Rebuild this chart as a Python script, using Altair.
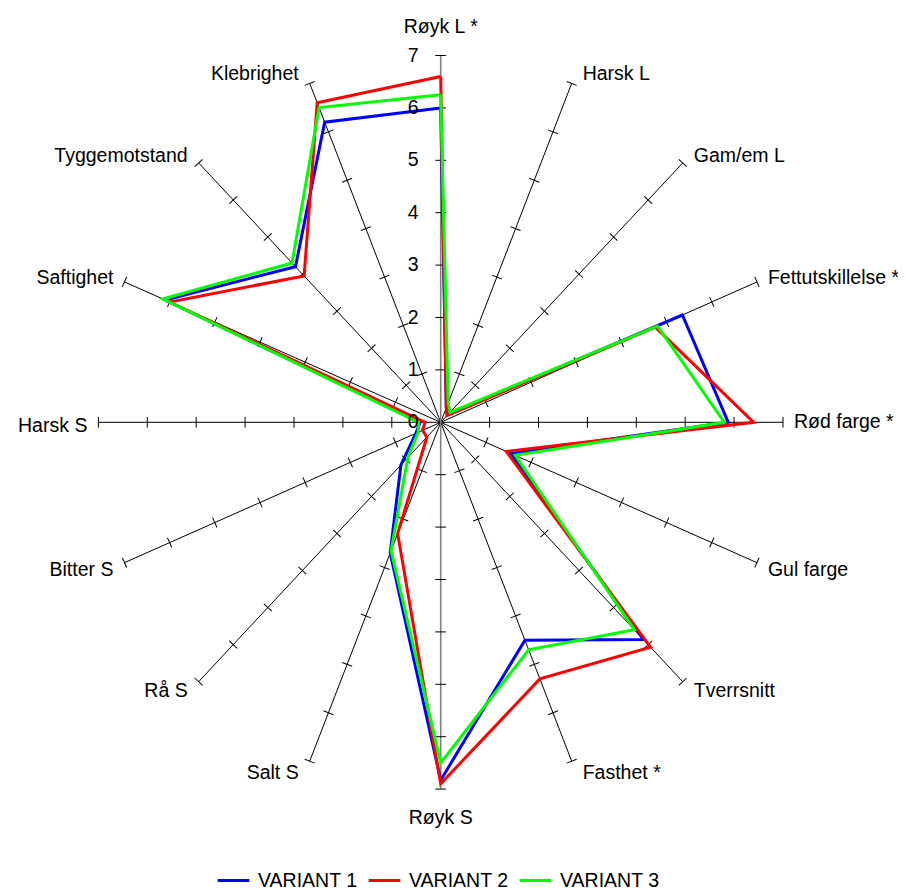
import math
import altair as alt
import pandas as pd

# ---- data ----
categories = ["Røyk L *", "Harsk L", "Gam/em L", "Fettutskillelse *", "Rød farge *",
              "Gul farge", "Tverrsnitt", "Fasthet *", "Røyk S", "Salt S", "Rå S",
              "Bitter S", "Harsk S", "Saftighet", "Tyggemotstand", "Klebrighet"]
variant1 = [6.0, 0.3, 0.2, 5.35, 5.88, 1.55, 5.86, 4.5, 6.83, 2.7, 1.15, 0.55, 0.42, 6.1, 4.2, 6.2]
variant2 = [6.6, 0.3, 0.18, 4.75, 6.4, 1.45, 6.07, 5.3, 6.9, 2.3, 0.4, 0.4, 0.32, 6.0, 3.95, 6.6]
variant3 = [6.25, 0.4, 0.27, 4.8, 5.8, 1.65, 5.6, 4.7, 6.5, 2.65, 0.95, 0.5, 0.45, 6.15, 4.3, 6.5]
series_names = ["VARIANT 1", "VARIANT 2", "VARIANT 3"]
series_colors = ["#0000FF", "#FF0000", "#00FF00"]
axis_ticks = [0, 1, 2, 3, 4, 5, 6, 7]

# ---- layout ----
N = len(categories)
AXIS_MAX = max(axis_ticks)
PX_X = 48.9      # pixels per unit horizontally
PX_Y = 52.4      # pixels per unit vertically
W, H = 890, 882
CX, CY = 432.7, 414.3
FONT = "Liberation Sans"
FS = 19.5
FS_LEG = 19.5

xs = alt.Scale(domain=[-CX / PX_X, (W - CX) / PX_X], nice=False, zero=False)
ys = alt.Scale(domain=[(CY - H) / PX_Y, CY / PX_Y], nice=False, zero=False)
X = lambda f: alt.X(f, type="quantitative", scale=xs, axis=None)
Y = lambda f: alt.Y(f, type="quantitative", scale=ys, axis=None)

rows = []
for name, vals in zip(series_names, [variant1, variant2, variant3]):
    for i in range(N + 1):
        idx = i % N
        rows.append({"series": name, "order": i, "idx": idx, "value": vals[idx]})
series_df = pd.DataFrame(rows)

spoke_df = pd.DataFrame({"idx": list(range(N)), "cat": categories})
tick_df = pd.DataFrame([{"idx": i, "k": k} for i in range(N) for k in axis_ticks if k > 0])
val_df = pd.DataFrame({"k": axis_ticks, "lab": [str(k) for k in axis_ticks]})

theta = f"datum.idx*2*PI/{N}"

lines = alt.Chart(series_df).transform_calculate(
    t=theta
).transform_calculate(
    x="datum.value*sin(datum.t)", y="datum.value*cos(datum.t)"
).mark_line(strokeWidth=3, strokeJoin="miter").encode(
    x=X("x"), y=Y("y"),
    order="order:Q",
    color=alt.Color("series:N",
                    scale=alt.Scale(domain=series_names, range=series_colors),
                    legend=alt.Legend(title=None, orient="none", legendX=208, legendY=855,
                                      direction="horizontal", symbolType="stroke",
                                      symbolSize=1000, symbolStrokeWidth=3,
                                      labelFontSize=FS_LEG, labelFont=FONT, labelColor="black",
                                      labelOffset=7, columnPadding=4, labelLimit=0)),
)

spokes_base = alt.Chart(spoke_df).transform_calculate(
    t=theta
).transform_calculate(
    x0="0", y0="0",
    x1=f"{AXIS_MAX}*sin(datum.t)", y1=f"{AXIS_MAX}*cos(datum.t)",
    vert=f"datum.idx % {N // 2} == 0"
)
spokes = spokes_base.transform_filter("!datum.vert").mark_rule(color="black", strokeWidth=1).encode(
    x=X("x0"), y=Y("y0"), x2="x1:Q", y2="y1:Q")
spokes_v = spokes_base.transform_filter("datum.vert").mark_rule(color="#808080", strokeWidth=1.6).encode(
    x=X("x0"), y=Y("y0"), x2="x1:Q", y2="y1:Q")

ticks = alt.Chart(tick_df).transform_calculate(
    t=theta
).transform_calculate(
    x="datum.k*sin(datum.t)", y="datum.k*cos(datum.t)",
    ang=f"(atan2({PX_X}*sin(datum.t), {PX_Y}*cos(datum.t))*180/PI + 360) % 360"
).mark_point(shape="stroke", size=115, filled=False, color="black", strokeWidth=1, opacity=1).encode(
    x=X("x"), y=Y("y"), angle=alt.Angle("ang:Q", scale=None))

lab_base = alt.Chart(spoke_df).transform_calculate(
    t=theta
).transform_calculate(
    s="sin(datum.t)", c="cos(datum.t)"
).transform_calculate(
    side="datum.s > 0.01 ? 1 : (datum.s < -0.01 ? -1 : 0)",
    oy="abs(datum.s) < 0.01 ? (datum.c > 0 ? -29 : 29) : (datum.c > 0 ? -10*datum.c : 4 - 8*datum.c)"
).transform_calculate(
    lx=f"{AXIS_MAX}*datum.s + datum.side*11/{PX_X}",
    ly=f"{AXIS_MAX}*datum.c - datum.oy/{PX_Y}"
)
labs = []
for cond, al in [("datum.side == 1", "left"), ("datum.side == -1", "right"), ("datum.side == 0", "center")]:
    labs.append(lab_base.transform_filter(cond).mark_text(
        align=al, baseline="middle", font=FONT, fontSize=FS, color="black").encode(
        x=X("lx"), y=Y("ly"), text="cat:N"))

vals = alt.Chart(val_df).transform_calculate(x0="0").mark_text(
    align="right", baseline="middle", dx=-22, font=FONT, fontSize=FS_LEG, color="black").encode(
    x=X("x0"), y=Y("k"), text="lab:N")

chart = alt.layer(spokes, spokes_v, ticks, lines, vals, *labs).properties(
    width=W, height=H, padding=0, autosize=alt.AutoSizeParams(type="none")
).configure_view(stroke=None)

chart.save("out.html", embed_options={"renderer": "svg", "actions": False})
